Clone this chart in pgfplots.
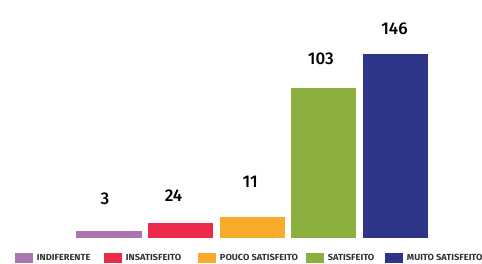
\documentclass[border=0pt]{standalone}
\usepackage{pgfplots}
\pgfplotsset{compat=1.18}
\usepackage{fontspec}
\setmainfont{Fira Sans}
\newfontfamily\legfont[FakeStretch=1.05]{Fira Sans Bold}
\newfontfamily\numfont{Fira Sans Medium}
\definecolor{cInd}{HTML}{A974B0}
\definecolor{cIns}{HTML}{EE2A4A}
\definecolor{cPou}{HTML}{F8AA2A}
\definecolor{cSat}{HTML}{8BB03F}
\definecolor{cMui}{HTML}{2E3487}
\begin{document}
\begin{tikzpicture}
\useasboundingbox (0,0) rectangle (482bp,264bp);
\begin{axis}[
  at={(0,26bp)}, anchor=south west,
  scale only axis, width=482bp, height=238bp,
  hide axis, clip=false,
  xmin=-1.522, xmax=5.209, ymin=0, ymax=188.9,
  ybar, bar width=0.908, bar shift=0pt,
  point meta=explicit symbolic,
  nodes near coords,
  legend columns=5,
  legend image code/.code={\fill[#1] (0bp,-5bp) rectangle (18bp,5bp);},
  legend style={at={(0.0311,-0.0861)}, anchor=west, draw=none, fill=none,
    inner sep=0pt, outer sep=0pt, row sep=0pt,
    nodes={inner sep=0pt, anchor=west, font=\legfont\fontsize{8.8bp}{10bp}\selectfont, text=black!80},
    /tikz/every odd column/.append style={column sep=4bp}},
]
\addplot[fill=cInd, draw=none, every node near coord/.style={anchor=center, xshift=-4bp, yshift=32bp, font=\numfont\fontsize{17bp}{18bp}\selectfont}] coordinates {(0,5.6) [3]};
\addlegendentry{\makebox[67bp][l]{INDIFERENTE}}
\addplot[fill=cIns, draw=none, every node near coord/.style={anchor=center, xshift=-7bp, yshift=27bp, font=\numfont\fontsize{17bp}{18bp}\selectfont}] coordinates {(1,11.9) [24]};
\addlegendentry{\makebox[72bp][l]{INSATISFEITO}}
\addplot[fill=cPou, draw=none, every node near coord/.style={anchor=center, xshift=-2bp, yshift=35bp, font=\numfont\fontsize{17bp}{18bp}\selectfont}] coordinates {(2,16.7) [11]};
\addlegendentry{\makebox[86bp][l]{POUCO SATISFEITO}}
\addplot[fill=cSat, draw=none, every node near coord/.style={anchor=center, xshift=-3bp, yshift=29bp, font=\numfont\fontsize{17bp}{18bp}\selectfont}] coordinates {(3,119.0) [103]};
\addlegendentry{\makebox[57bp][l]{SATISFEITO}}
\addplot[fill=cMui, draw=none, every node near coord/.style={anchor=center, xshift=-1bp, yshift=25bp, font=\numfont\fontsize{17bp}{18bp}\selectfont}] coordinates {(4,146.0) [146]};
\addlegendentry{MUITO SATISFEITO}
\end{axis}
\end{tikzpicture}
\end{document}
